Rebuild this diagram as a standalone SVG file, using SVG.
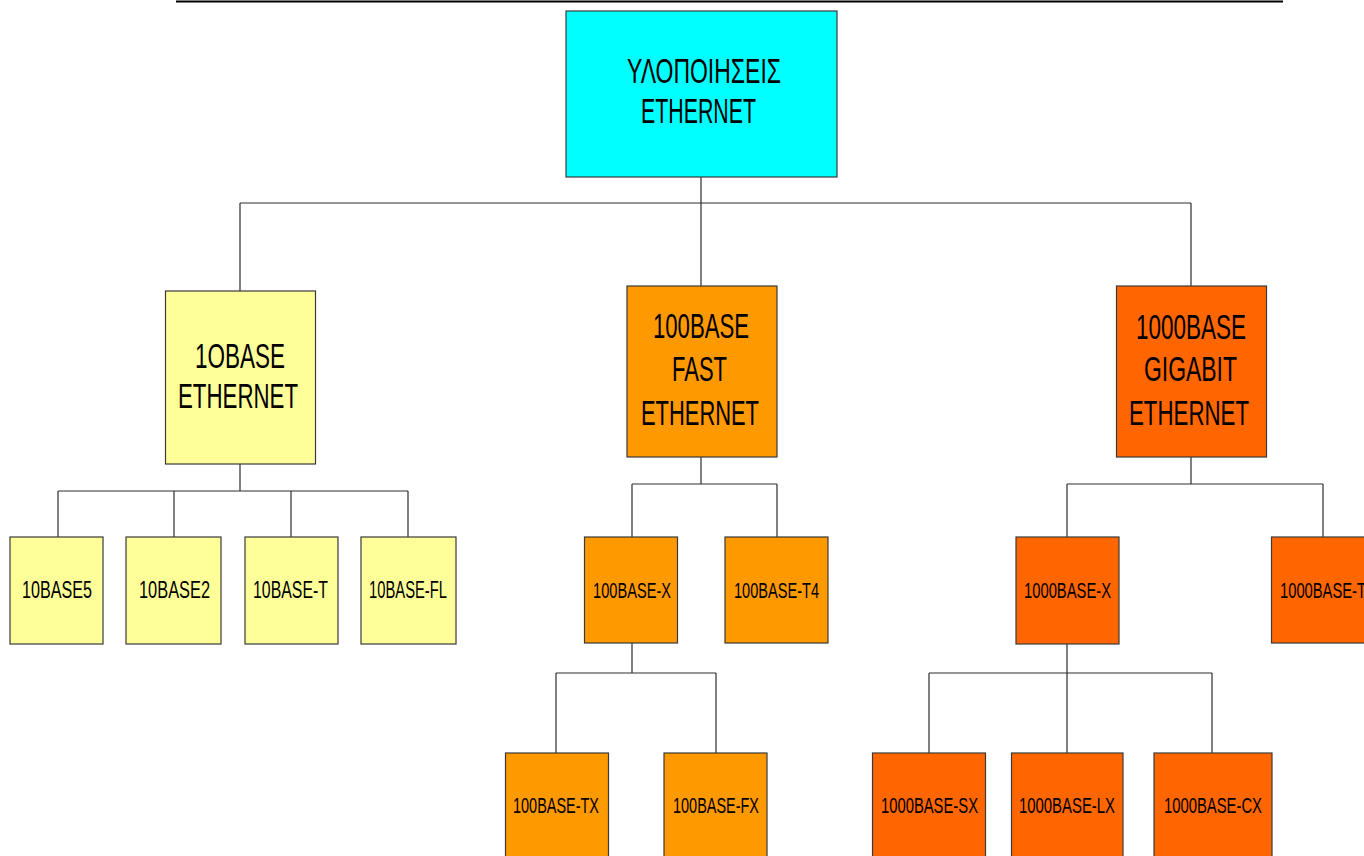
<svg xmlns="http://www.w3.org/2000/svg" width="1364" height="856" viewBox="0 0 1364 856">
<style>
.box{stroke:#3a3a3a;stroke-width:1.2}
.c0{fill:#00FFFF}
.c1{fill:#FFFF99}
.c2{fill:#FF9900}
.c3{fill:#FF6600}
text{font-family:"Liberation Sans",Arial,sans-serif;fill:#000}
.big{font-size:35px}
.sm{font-size:24px}
.xs{font-size:22px}
.conn{fill:none;stroke:#2e2e2e;stroke-width:1.2}
</style>
<rect width="1364" height="856" fill="#fff"/>
<line x1="176" y1="1.5" x2="1283" y2="1.5" stroke="#000" stroke-width="2"/>
<g id="connectors">
<path class="conn" d="M701 177V203M240 203H1191M240 203V291M701 203V286M1191 203V286"/>
<path class="conn" d="M240 464V491M58 491H408M58 491V537M174 491V537M291 491V537M408 491V537"/>
<path class="conn" d="M701 457V484M632 484H777M632 484V537M777 484V537"/>
<path class="conn" d="M632 643V673M556 673H716M556 673V753M716 673V753"/>
<path class="conn" d="M1191 457V484M1067 484H1323M1067 484V537M1323 484V537"/>
<path class="conn" d="M1067 644V673M929 673H1212M929 673V753M1067 673V753M1212 673V753"/>
</g>
<g id="root">
<rect class="box c0" x="566" y="11" width="271" height="166"/>
<text class="big" x="627" y="83" textLength="154" lengthAdjust="spacingAndGlyphs">ΥΛΟΠΟΙΗΣΕΙΣ</text>
<text class="big" x="641" y="123" textLength="115" lengthAdjust="spacingAndGlyphs">ETHERNET</text>
</g>
<g id="n10base">
<rect class="box c1" x="165.5" y="291" width="150" height="173"/>
<text class="big" x="195" y="368" textLength="90" lengthAdjust="spacingAndGlyphs">1OBASE</text>
<text class="big" x="178" y="408" textLength="120" lengthAdjust="spacingAndGlyphs">ETHERNET</text>
</g>
<g id="n100base">
<rect class="box c2" x="627" y="286" width="150" height="171"/>
<text class="big" x="653" y="338" textLength="96" lengthAdjust="spacingAndGlyphs">100BASE</text>
<text class="big" x="672" y="381" textLength="55" lengthAdjust="spacingAndGlyphs">FAST</text>
<text class="big" x="641" y="425" textLength="118" lengthAdjust="spacingAndGlyphs">ETHERNET</text>
</g>
<g id="n1000base">
<rect class="box c3" x="1116.5" y="286" width="150" height="171"/>
<text class="big" x="1136" y="339" textLength="110" lengthAdjust="spacingAndGlyphs">1000BASE</text>
<text class="big" x="1144" y="381" textLength="93" lengthAdjust="spacingAndGlyphs">GIGABIT</text>
<text class="big" x="1129" y="425" textLength="120" lengthAdjust="spacingAndGlyphs">ETHERNET</text>
</g>
<g id="n10base5">
<rect class="box c1" x="10" y="537" width="93" height="107"/>
<text class="sm" x="22" y="598" textLength="70" lengthAdjust="spacingAndGlyphs">10BASE5</text>
</g>
<g id="n10base2">
<rect class="box c1" x="126" y="537" width="95" height="107"/>
<text class="sm" x="139" y="598" textLength="71" lengthAdjust="spacingAndGlyphs">10BASE2</text>
</g>
<g id="n10baset">
<rect class="box c1" x="245" y="537" width="93" height="107"/>
<text class="sm" x="253" y="598" textLength="75" lengthAdjust="spacingAndGlyphs">10BASE-T</text>
</g>
<g id="n10basefl">
<rect class="box c1" x="361" y="537" width="95" height="107"/>
<text class="sm" x="369" y="598" textLength="78" lengthAdjust="spacingAndGlyphs">10BASE-FL</text>
</g>
<g id="n100basex">
<rect class="box c2" x="584.5" y="537" width="93" height="106"/>
<text class="xs" x="593" y="598" textLength="78" lengthAdjust="spacingAndGlyphs">100BASE-X</text>
</g>
<g id="n100baset4">
<rect class="box c2" x="725" y="537" width="103" height="106"/>
<text class="xs" x="734" y="598" textLength="85" lengthAdjust="spacingAndGlyphs">100BASE-T4</text>
</g>
<g id="n1000basex">
<rect class="box c3" x="1016" y="537" width="103" height="107"/>
<text class="xs" x="1024" y="598" textLength="87" lengthAdjust="spacingAndGlyphs">1000BASE-X</text>
</g>
<g id="n1000baset">
<rect class="box c3" x="1271.5" y="537" width="110" height="106"/>
<text class="xs" x="1280" y="598" textLength="86" lengthAdjust="spacingAndGlyphs">1000BASE-T</text>
</g>
<g id="n100basetx">
<rect class="box c2" x="505.5" y="753" width="103" height="110"/>
<text class="xs" x="513" y="813" textLength="86" lengthAdjust="spacingAndGlyphs">100BASE-TX</text>
</g>
<g id="n100basefx">
<rect class="box c2" x="664" y="753" width="103" height="110"/>
<text class="xs" x="673" y="813" textLength="86" lengthAdjust="spacingAndGlyphs">100BASE-FX</text>
</g>
<g id="n1000basesx">
<rect class="box c3" x="872.5" y="753" width="113" height="110"/>
<text class="xs" x="881" y="813" textLength="97" lengthAdjust="spacingAndGlyphs">1000BASE-SX</text>
</g>
<g id="n1000baselx">
<rect class="box c3" x="1011.5" y="753" width="111.5" height="110"/>
<text class="xs" x="1019" y="813" textLength="96" lengthAdjust="spacingAndGlyphs">1000BASE-LX</text>
</g>
<g id="n1000basecx">
<rect class="box c3" x="1154" y="753" width="118" height="110"/>
<text class="xs" x="1164" y="813" textLength="98" lengthAdjust="spacingAndGlyphs">1000BASE-CX</text>
</g>
</svg>
